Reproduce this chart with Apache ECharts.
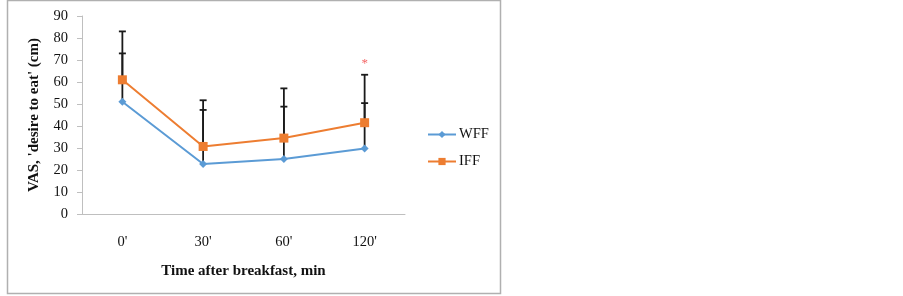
<!DOCTYPE html>
<html>
<head>
<meta charset="utf-8">
<script src="https://cdn.jsdelivr.net/npm/echarts@6/dist/echarts.min.js"></script>
<style>
  html, body { margin: 0; padding: 0; background: #fff; }
  #chart { width: 903px; height: 296px; }
</style>
</head>
<body>
<div id="chart"></div>
<script>
var times = ["0'", "30'", "60'", "120'"];
var wffValues = [51, 22.7, 25, 29.8];
var iffValues = [61, 30.7, 34.5, 41.5];
var wffUpper = [73, 47.3, 48.8, 50.4];
var iffUpper = [83, 51.7, 57.1, 63.3];
var starPoint = [3, 69];   // significance mark at 120'

var serif = 'Liberation Serif';

var chart = echarts.init(document.getElementById('chart'));

// error bars drawn as one line from the point up to the cap
function errorBar(params, api) {
  var low = api.coord([api.value(0), api.value(1)]);
  var high = api.coord([api.value(0), api.value(2)]);
  var half = 3.5;
  var style = { stroke: '#1a1a1a', lineWidth: 1.8 };
  return {
    type: 'group',
    children: [
      { type: 'line', shape: { x1: low[0], y1: low[1], x2: high[0], y2: high[1] }, style: style },
      { type: 'line', shape: { x1: high[0] - half, y1: high[1], x2: high[0] + half, y2: high[1] }, style: style }
    ]
  };
}

var wffBars = times.map(function (t, i) { return [i, wffValues[i], wffUpper[i]]; });
var iffBars = times.map(function (t, i) { return [i, iffValues[i], iffUpper[i]]; });

var option = {
  animation: false,
  graphic: [
    {
      type: 'rect',
      shape: { x: 7.5, y: 0.5, width: 493, height: 293 },
      style: { fill: 'none', stroke: '#b0b0b0', lineWidth: 1.5 },
      silent: true
    }
  ],
  grid: { left: 82, top: 16, right: 498, bottom: 82 },
  legend: {
    orient: 'vertical',
    left: 422,
    top: 122,
    itemWidth: 28,
    itemHeight: 9,
    itemGap: 12,
    data: ['WFF', 'IFF'],
    textStyle: { fontFamily: serif, fontSize: 14.5, color: '#111', padding: [0, 0, 0, -2] }
  },
  xAxis: {
    type: 'category',
    data: times,
    name: 'Time after breakfast, min',
    nameLocation: 'middle',
    nameGap: 50,
    nameTextStyle: { fontFamily: serif, fontSize: 15, fontWeight: 'bold', color: '#111' },
    axisLine: { lineStyle: { color: '#bfbfbf', width: 1 } },
    axisTick: { length: 5, lineStyle: { color: '#bfbfbf' } },
    axisLabel: { margin: 21, fontFamily: serif, fontSize: 14.5, color: '#111' }
  },
  yAxis: {
    type: 'value',
    min: 0,
    max: 90,
    interval: 10,
    name: "VAS, 'desire to eat' (cm)",
    nameLocation: 'middle',
    nameGap: 40,
    nameTextStyle: { fontFamily: serif, fontSize: 15, fontWeight: 'bold', color: '#111' },
    splitLine: { show: false },
    axisLine: { show: true, lineStyle: { color: '#bfbfbf', width: 1 } },
    axisTick: { show: true, length: 5, lineStyle: { color: '#bfbfbf' } },
    axisLabel: { margin: 14, fontFamily: serif, fontSize: 14.5, color: '#111' }
  },
  series: [
    {
      type: 'custom',
      renderItem: errorBar,
      data: iffBars,
      z: 1
    },
    {
      type: 'custom',
      renderItem: errorBar,
      data: wffBars,
      z: 1
    },
    {
      name: 'WFF',
      type: 'line',
      data: wffValues,
      symbol: 'diamond',
      symbolSize: 8,
      itemStyle: { color: '#5b9bd5' },
      lineStyle: { color: '#5b9bd5', width: 2 },
      z: 3
    },
    {
      name: 'IFF',
      type: 'line',
      data: iffValues,
      symbol: 'rect',
      symbolSize: 9,
      itemStyle: { color: '#ed7d31' },
      lineStyle: { color: '#ed7d31', width: 2 },
      z: 3
    },
    {
      type: 'scatter',
      data: [starPoint],
      symbolSize: 0,
      label: {
        show: true,
        position: 'inside',
        formatter: '*',
        color: '#f03c3c',
        fontSize: 13,
        fontFamily: serif,
        offset: [0, 1]
      },
      z: 4
    }
  ]
};

chart.setOption(option);
</script>
</body>
</html>
